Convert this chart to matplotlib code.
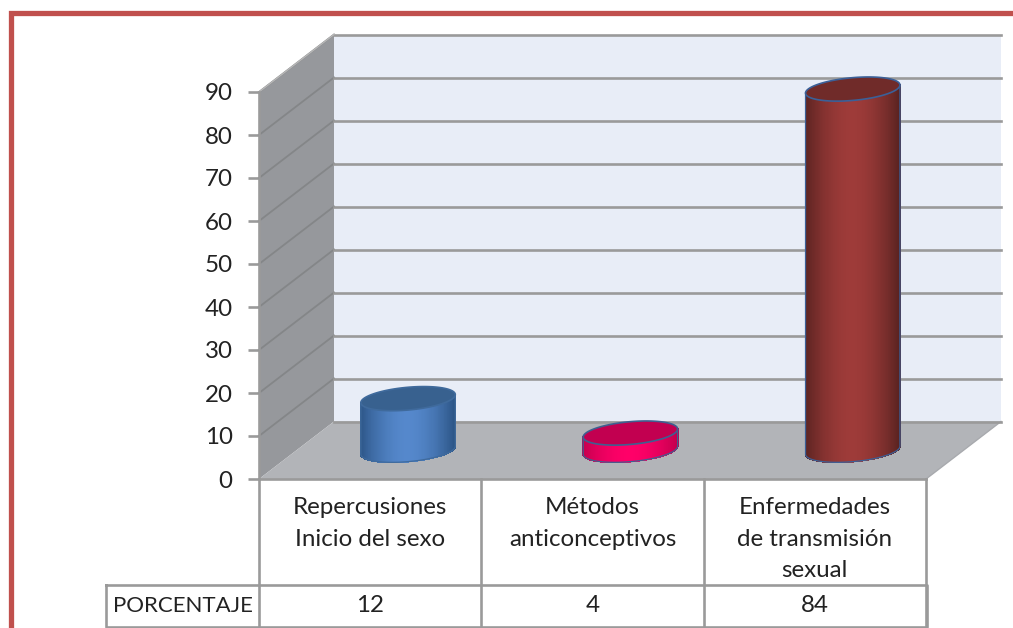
import matplotlib
matplotlib.use('Agg')
import matplotlib.pyplot as plt
import numpy as np
from matplotlib.collections import PolyCollection
from matplotlib.colors import to_rgb
from matplotlib.patches import Polygon

categorias = ['Repercusiones\nInicio del sexo', 'Métodos\nanticonceptivos', 'Enfermedades\nde transmisión\nsexual']
valores = [12, 4, 84]
etiquetas_y = [0, 10, 20, 30, 40, 50, 60, 70, 80, 90]
fila = 'PORCENTAJE'

# borde, centro, tapa, contorno
colores = [
    ('#2c5586', '#5588cc', '#38618f', '#3f6a9c'),
    ('#c4004e', '#ff0068', '#c20050', '#3f5f90'),
    ('#5a2321', '#9e3b39', '#702b29', '#3b6098'),
]

W, H = 1013, 628
X0, X1 = 259, 926      # plano frontal en pixeles
Y0, Y90 = 479, 92
plt.rcParams['font.family'] = ['Lato', 'DejaVu Sans']
TXT = 17.4
GRIS = '#9a9a9a'

fig = plt.figure(figsize=(W / 100, H / 100), dpi=100, facecolor='white')
ax = fig.add_axes([X0 / W, 1 - Y0 / H, (X1 - X0) / W, (Y0 - Y90) / H])
ax.set_xlim(0, 3)
ax.set_ylim(0, 90)
ax.patch.set_visible(False)

ux = 3 / (X1 - X0)     # unidades por pixel
uy = 90 / (Y0 - Y90)
dx, dy = 75 * ux, 57.5 * uy

# marco rojo
fig.add_artist(plt.Line2D([10.5 / W, 10.5 / W, 1], [0, 1 - 12.5 / H, 1 - 12.5 / H], color='#c0504d', lw=3.8,
                          solid_joinstyle='miter'))

# paredes y suelo
ax.add_patch(Polygon([(0, 0), (dx, dy), (dx, 90 + dy), (0, 90)], fc='#96989c', ec='none', clip_on=False, zorder=1))
ax.add_patch(Polygon([(dx, dy), (3 + dx, dy), (3 + dx, 90 + dy), (dx, 90 + dy)], fc='#e8edf7', ec='none', clip_on=False, zorder=1))
ax.add_patch(Polygon([(0, 0), (3, 0), (3 + dx, dy), (dx, dy)], fc='#b2b4b8', ec='none', clip_on=False, zorder=2))
ax.plot([3, 3 + dx], [0, dy], color='#a8aaae', lw=1, clip_on=False, zorder=2)

for v in etiquetas_y[1:]:
    ax.plot([0, dx], [v, v + dy], color='#848688', lw=1.3, clip_on=False, zorder=2)
for v in etiquetas_y:
    ax.plot([dx, 3 + dx], [v + dy, v + dy], color=GRIS, lw=1.9, clip_on=False, zorder=2)
ax.plot([0, dx], [90, 90 + dy], color='#b8b8b8', lw=1, clip_on=False, zorder=2)

# cilindros
a = 44.5 * ux
sx, sy = 0.21 * dx, 0.21 * dy
for i, v in enumerate(valores):
    cx = i + 0.5 + dx / 2 + 0.4 * ux
    cy = dy / 2
    borde, centro, tapa, linea = colores[i]
    t_min = np.arctan2(sx, a)
    t = np.linspace(t_min - np.pi, t_min, 120)   # mitad delantera
    ex = a * np.cos(t) + sx * np.sin(t)
    ey = sy * np.sin(t)
    ancho = np.max(np.abs(ex))
    quads, tonos = [], []
    for k in range(len(t) - 1):
        quads.append([(cx + ex[k], cy + ey[k]), (cx + ex[k + 1], cy + ey[k + 1]),
                      (cx + ex[k + 1], cy + v + ey[k + 1]), (cx + ex[k], cy + v + ey[k])])
        u = abs(ex[k] + ex[k + 1]) / 2 / ancho
        m = 1 - u ** 1.8
        tonos.append(np.array(to_rgb(borde)) * (1 - m) + np.array(to_rgb(centro)) * m)
    ax.add_collection(PolyCollection(quads, facecolors=tonos, edgecolors=tonos, linewidths=0.6,
                                     antialiaseds=False, clip_on=False, zorder=3))

    t2 = np.linspace(0, 2 * np.pi, 200)
    tx = cx + a * np.cos(t2) + sx * np.sin(t2)
    ty = cy + v + sy * np.sin(t2)
    ax.fill(tx, ty, fc=tapa, ec=linea, lw=1.2, clip_on=False, zorder=4)
    # contorno fino del cuerpo
    ax.plot(np.r_[cx + ex[0], cx + ex, cx + ex[-1]], np.r_[cy + v + ey[0], cy + ey, cy + v + ey[-1]],
            color=linea, lw=0.9, clip_on=False, zorder=3.5)

# eje y
for lado in ['top', 'right', 'bottom']:
    ax.spines[lado].set_visible(False)
ax.spines['left'].set_color(GRIS)
ax.spines['left'].set_linewidth(1.9)
ax.spines['left'].set_zorder(5)
ax.set_xticks([])
ax.set_yticks(etiquetas_y)
ax.tick_params(axis='y', length=8, width=1.9, color=GRIS, labelsize=TXT, labelcolor='#222222', pad=11)

# tabla inferior
y_cat = -(585 - Y0) * uy
y_fin = -(627 - Y0) * uy
x_fila = -(X0 - 106) * ux
x_der = 3 + 1 * ux
ax.plot([0, 3], [0, 0], color=GRIS, lw=1.9, clip_on=False, zorder=5)
for x in range(4):
    ax.plot([x, x], [0, y_fin], color=GRIS, lw=1.9, clip_on=False, zorder=5)
ax.plot([x_fila, x_der, x_der, x_fila, x_fila], [y_cat, y_cat, y_fin, y_fin, y_cat], color=GRIS, lw=1.9,
        clip_on=False, zorder=5)

for i, c in enumerate(categorias):
    ax.text(i + 0.5, -(497 - Y0) * uy, c, ha='center', va='top', fontsize=TXT, color='#222222', linespacing=1.62)
    ax.text(i + 0.5, (y_cat + y_fin) / 2, str(valores[i]), ha='center', va='center', fontsize=TXT, color='#222222')
ax.text(x_fila / 2, (y_cat + y_fin) / 2, fila, ha='center', va='center', fontsize=16, color='#222222')

fig.savefig('out.png', dpi=100)
